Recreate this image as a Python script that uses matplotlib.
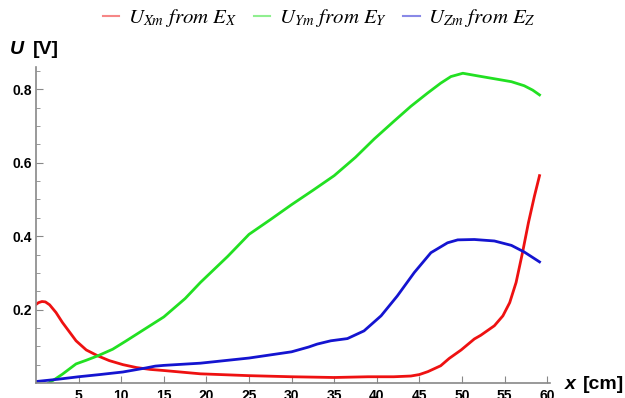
import matplotlib
matplotlib.use("Agg")
import matplotlib.pyplot as plt
from matplotlib.lines import Line2D
import numpy as np

# readings
x_red = [0, 0.3, 0.7, 1.1, 1.6, 2.35, 3.1, 3.9, 4.7, 5.9, 7.25, 8.6, 10.2, 11.8, 13.4, 15, 19.3, 25, 30, 35, 39, 42, 44, 45, 46, 47.5, 48.5, 49.9, 51.45, 52.2, 53.8, 54.8, 55.6, 56.35, 57.1, 57.8, 58.5, 59.1]
y_red = [0.214, 0.219, 0.222, 0.221, 0.213, 0.192, 0.165, 0.14, 0.115, 0.09, 0.074, 0.061, 0.05, 0.042, 0.037, 0.034, 0.025, 0.02, 0.017, 0.015, 0.017, 0.017, 0.019, 0.023, 0.031, 0.047, 0.067, 0.09, 0.12, 0.13, 0.156, 0.183, 0.219, 0.274, 0.355, 0.437, 0.509, 0.565]

x_grn = [1.5, 2.2, 3.1, 3.9, 4.7, 5.9, 7.25, 9.0, 10.6, 12.9, 15, 17.5, 19.3, 22.5, 25, 27.5, 30, 32.5, 35, 37.5, 39.7, 42.0, 44.0, 45.96, 47.5, 48.7, 50.1, 51.8, 53.8, 55.8, 57.3, 58.3, 59.1]
y_grn = [0.0, 0.01, 0.024, 0.038, 0.052, 0.062, 0.074, 0.092, 0.115, 0.149, 0.18, 0.23, 0.274, 0.345, 0.405, 0.445, 0.486, 0.525, 0.565, 0.615, 0.665, 0.713, 0.754, 0.79, 0.817, 0.835, 0.844, 0.837, 0.829, 0.821, 0.81, 0.798, 0.785]

x_blu = [0, 2.5, 5, 7.5, 10.2, 12.9, 14, 15, 19.3, 25, 30, 32, 33, 34.6, 36.55, 38.5, 40.5, 42.4, 44.4, 46.35, 48.3, 49.5, 51.45, 53.8, 55.8, 57.3, 59.1]
y_blu = [0.004, 0.01, 0.017, 0.023, 0.03, 0.041, 0.046, 0.048, 0.054, 0.068, 0.085, 0.098, 0.106, 0.115, 0.121, 0.142, 0.183, 0.237, 0.301, 0.355, 0.382, 0.39, 0.391, 0.387, 0.375, 0.357, 0.33]

labels = [r"$U_{Xm}\ from\ E_X$", r"$U_{Ym}\ from\ E_Y$", r"$U_{Zm}\ from\ E_Z$"]
colors = ["#ee1111", "#22e022", "#1414d0"]
xticks = [5, 10, 15, 20, 25, 30, 35, 40, 45, 50, 55, 60]
yticks = [0.2, 0.4, 0.6, 0.8]

plt.rcParams["font.family"] = ["Liberation Sans", "DejaVu Sans"]
plt.rcParams["mathtext.fontset"] = "stix"

fig = plt.figure(figsize=(6.25, 3.98), dpi=100)
ax = fig.add_axes([0.0576, 0.0377, 0.822, 0.793])

ax.plot(x_red, y_red, color=colors[0], lw=2, solid_joinstyle="round")
ax.plot(x_grn, y_grn, color=colors[1], lw=2, solid_joinstyle="round")
ax.plot(x_blu, y_blu, color=colors[2], lw=2, solid_joinstyle="round")

ax.set_xlim(0, 60.3)
ax.set_ylim(0, 0.86)
ax.set_xticks(xticks)
ax.set_yticks(yticks)
ax.set_yticks(np.arange(0.05, 0.86, 0.05), minor=True)
ax.set_xticklabels([str(t) for t in xticks], fontweight="bold", fontsize=10)
ax.set_yticklabels([str(t) for t in yticks], fontweight="bold", fontsize=10)

for s in ["top", "right"]:
    ax.spines[s].set_visible(False)
for s in ["left", "bottom"]:
    ax.spines[s].set_color("#888888")
    ax.spines[s].set_linewidth(1.2)
ax.tick_params(which="both", direction="in", color="#888888")
ax.tick_params(which="major", length=5, pad=3)
ax.tick_params(which="minor", length=3)
ax.tick_params(axis="x", pad=4)

fig.text(0.016, 0.865, "U", fontsize=14, fontweight="bold", style="italic")
fig.text(0.052, 0.865, "[V]", fontsize=14, fontweight="bold")
fig.text(0.903, 0.022, "x", fontsize=14, fontweight="bold", style="italic")
fig.text(0.932, 0.022, "[cm]", fontsize=14, fontweight="bold")

handles = [Line2D([], [], color=c, lw=1.5, alpha=0.5) for c in colors]
fig.legend(handles, labels, loc="upper center", bbox_to_anchor=(0.511, 1.03), ncol=3,
           frameon=False, fontsize=15, handlelength=0.8, handletextpad=0.4, columnspacing=0.8)

fig.savefig("out.png", dpi=100)
